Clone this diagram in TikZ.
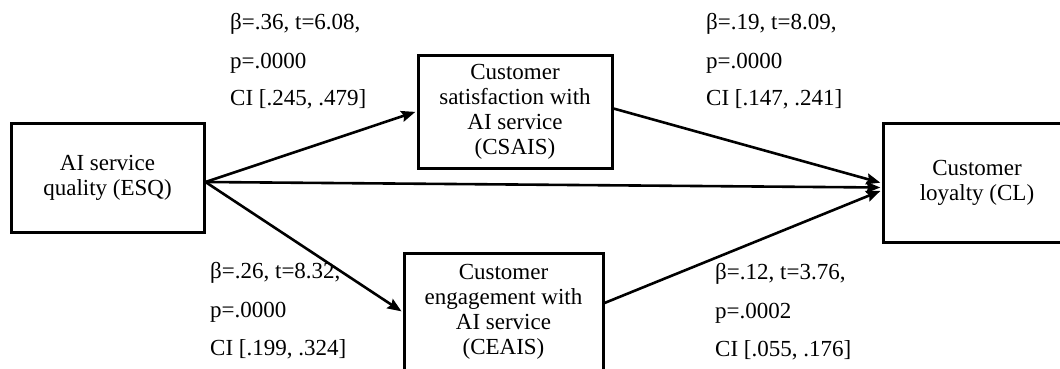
\documentclass[tikz,border=0pt]{standalone}
\usepackage{fontspec}
\setmainfont{Liberation Serif}
\usetikzlibrary{arrows.meta,calc}
\begin{document}
\begin{tikzpicture}[x=1pt,y=-1pt,
  box/.style={draw=black,line width=3pt,align=center,inner sep=0pt,font=\fontsize{23}{25}\selectfont},
  lbl/.style={anchor=base west,inner sep=0pt,font=\fontsize{23}{27}\selectfont},
  conn/.style={line width=2.6pt,shorten >=1.2pt,-{Stealth[length=14pt,width=11pt,inset=2pt]}}]
\useasboundingbox (0,0) rectangle (1060,368);
\clip (0,0) rectangle (1060,368);
\node[box,minimum width=193pt,minimum height=109pt] (esq) at (107.5,177.5) {AI service\\quality (ESQ)};
\node[box,minimum width=194pt,minimum height=113pt] (csais) at (515,111.5) {Customer\\satisfaction with\\AI service\\(CSAIS)};
\node[box,minimum width=199pt,minimum height=118pt] (ceais) at (503.5,312) {Customer\\engagement with\\AI service\\(CEAIS)};
\node[box,minimum width=188pt,minimum height=119pt] (cl) at (977,182.5) {Customer\\loyalty (CL)};
\coordinate (src) at ($(esq.east)+(0,4.5)$);
\draw[conn] (src) -- (csais.west);
\draw[conn] (src) -- (ceais.west);
\draw[conn] (src) -- ($(cl.west)+(0,5)$);
\draw[conn] ($(csais.east)+(0,-3)$) -- ($(cl.west)+(0,0.5)$);
\draw[conn] ($(ceais.east)+(0,-9)$) -- ($(cl.west)+(0,8)$);
\node[lbl] (a1) at (230,29.5) {β=.36, t=6.08,};
\node[lbl] (a2) at (230,68.5) {p=.0000};
\node[lbl] (a3) at (230,105.5) {CI [.245, .479]};
\node[lbl] (b1) at (706,29.5) {β=.19, t=8.09,};
\node[lbl] (b2) at (706,68.5) {p=.0000};
\node[lbl] (b3) at (706,105.5) {CI [.147, .241]};
\node[lbl] (c1) at (210,278.5) {β=.26, t=8.32,};
\node[lbl] (c2) at (210,317.5) {p=.0000};
\node[lbl] (c3) at (210,355.5) {CI [.199, .324]};
\node[lbl] (d1) at (715,279.5) {β=.12, t=3.76,};
\node[lbl] (d2) at (715,318.5) {p=.0002};
\node[lbl] (d3) at (715,356.5) {CI [.055, .176]};
\end{tikzpicture}
\end{document}
